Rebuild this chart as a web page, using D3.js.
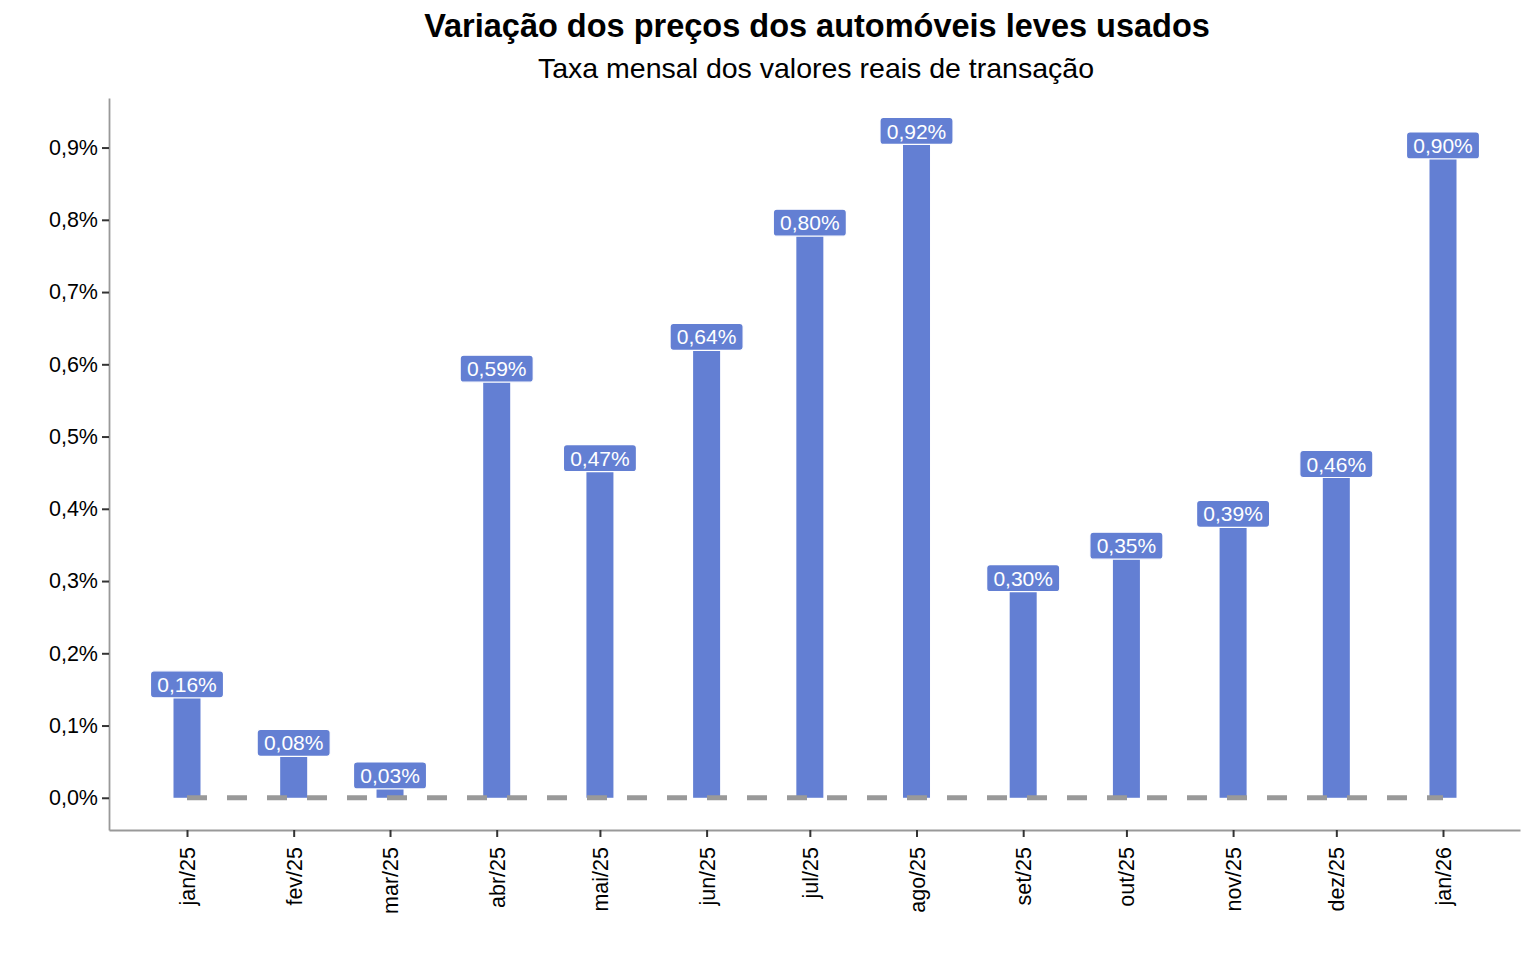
<!DOCTYPE html>
<html><head><meta charset="utf-8">
<script src="https://cdn.jsdelivr.net/npm/d3@7"></script>
<style>body{margin:0;background:#fff}svg{display:block;font-family:"Liberation Sans",Arial,sans-serif}</style>
</head><body>
<svg id="c" width="1536" height="960"></svg>
<script>
const months = ["2025-01","2025-02","2025-03","2025-04","2025-05","2025-06","2025-07","2025-08","2025-09","2025-10","2025-11","2025-12","2026-01"];
const monthLabels = ["jan/25","fev/25","mar/25","abr/25","mai/25","jun/25","jul/25","ago/25","set/25","out/25","nov/25","dez/25","jan/26"];
const values = [0.157,0.076,0.031,0.594,0.470,0.638,0.796,0.923,0.304,0.349,0.393,0.462,0.903];
const yTicks = [0,0.1,0.2,0.3,0.4,0.5,0.6,0.7,0.8,0.9];
const title = "Variação dos preços dos automóveis leves usados";
const subtitle = "Taxa mensal dos valores reais de transação";

const svg = d3.select("#c");
const parse = s => new Date(Date.UTC(+s.slice(0,4), +s.slice(5,7)-1, 1));
const dates = months.map(parse);
const pL = 109, pR = 1520, pT = 98, pB = 830;
const x0 = dates[0].getTime(), x1 = dates[dates.length-1].getTime();
const span = x1 - x0;
const padL = span * (187-109)/(1443-187), padR = span * (1520-1443)/(1443-187);
const x = d3.scaleUtc().domain([new Date(x0-padL), new Date(x1+padR)]).range([pL, pR]);
const y = d3.scaleLinear().domain([-0.0446, 0.9686]).range([pB, pT]);

const fmtY = d => d3.format(".1f")(d).replace(".", ",") + "%";
const fmtL = d => d3.format(".2f")(d).replace(".", ",") + "%";
const color = "#637fd3";

// axes
const ya = svg.append("g").attr("transform", `translate(${pL},0)`)
  .call(d3.axisLeft(y).tickValues(yTicks).tickFormat(fmtY).tickSize(7).tickSizeOuter(0).tickPadding(4));
ya.attr("font-family", null).attr("font-size", null);
ya.select(".domain").attr("stroke", "#999").attr("stroke-width", 1.8);
ya.selectAll(".tick line").attr("stroke", "#333").attr("stroke-width", 2);
ya.selectAll(".tick text").attr("fill", "#000").style("font-size", "21.5px");

const xa = svg.append("g").attr("transform", `translate(0,${pB})`)
  .call(d3.axisBottom(x).tickValues(dates).tickFormat((d,i) => monthLabels[i]).tickSize(7).tickSizeOuter(0));
xa.attr("font-family", null).attr("font-size", null);
xa.select(".domain").attr("stroke", "#999").attr("stroke-width", 1.8);
xa.selectAll(".tick line").attr("stroke", "#333").attr("stroke-width", 2);
xa.selectAll(".tick text").attr("fill", "#000").style("font-size", "21.5px")
  .attr("transform", "rotate(-90)").attr("text-anchor", "end").attr("x", -17).attr("y", 0).attr("dy", "0.35em");

// bars
const bw = 27;
svg.append("g").selectAll("rect").data(values).join("rect")
  .attr("x", (d,i) => x(dates[i]) - bw/2).attr("width", bw)
  .attr("y", d => y(d)).attr("height", d => y(0) - y(d))
  .attr("fill", color);

// dashed zero line
svg.append("line")
  .attr("x1", x(dates[0])).attr("x2", x(dates[dates.length-1]))
  .attr("y1", y(0)).attr("y2", y(0))
  .attr("stroke", "#999").attr("stroke-width", 5).attr("stroke-dasharray", "20,20");

// labels
const lg = svg.append("g").selectAll("g").data(values).join("g")
  .attr("transform", (d,i) => `translate(${x(dates[i])},${y(d)})`);
lg.append("text").text(d => fmtL(d))
  .attr("text-anchor", "middle").attr("dy", "0.36em")
  .attr("fill", "#fff").style("font-size", "21px");
lg.each(function() {
  const g = d3.select(this), b = g.select("text").node().getBBox();
  const w = b.width + 13.5, h = 27;
  g.insert("rect", "text").attr("x", -w/2).attr("y", -h/2).attr("width", w).attr("height", h)
    .attr("rx", 3.5).attr("fill", color).attr("stroke", "#fff").attr("stroke-width", 1.2);
});

// titles
svg.append("text").attr("x", 817).attr("y", 37).attr("text-anchor", "middle")
  .style("font-size", "32.5px").style("font-weight", "bold").text(title);
svg.append("text").attr("x", 816).attr("y", 78).attr("text-anchor", "middle")
  .style("font-size", "28.5px").text(subtitle);
</script>
</body></html>
